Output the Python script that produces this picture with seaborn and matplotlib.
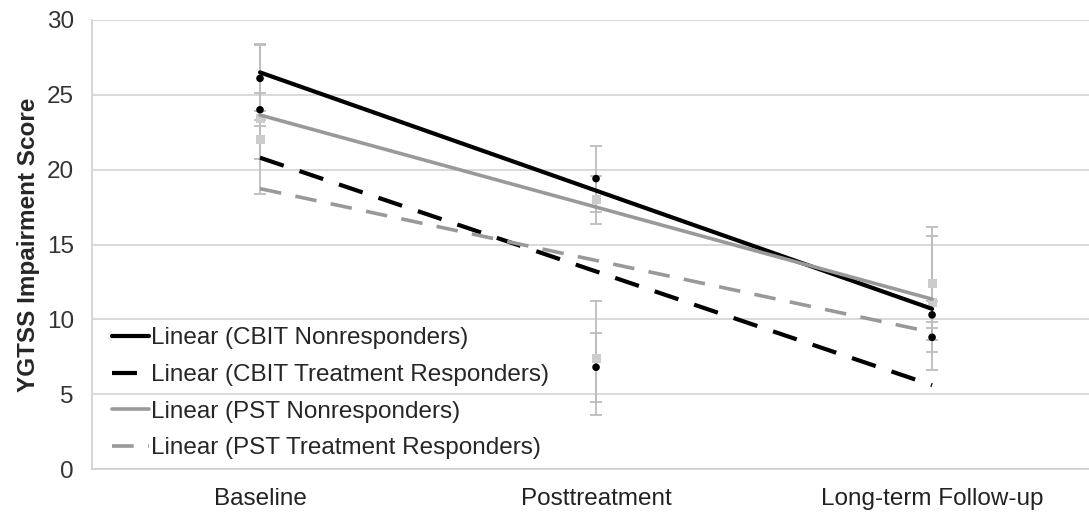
import matplotlib
matplotlib.use("Agg")
import matplotlib.pyplot as plt
import numpy as np
import pandas as pd
import seaborn as sns

# time points
phases = ["Baseline", "Posttreatment", "Long-term Follow-up"]
phase_x = [0, 1, 2]

# group means (YGTSS impairment)
cbit_nonresp = [26.1, 19.4, 10.3]
cbit_resp = [24.0, 6.8, 8.8]
pst_nonresp = [23.4, 18.0, 11.1]
pst_resp = [22.0, 7.4, 12.4]

# error bar half-widths
cbit_nonresp_err = [2.2, 2.2, 0.9]
cbit_resp_err = [1.1, 2.3, 1.0]
pst_nonresp_err = [5.0, 1.6, 4.5]
pst_resp_err = [1.3, 3.8, 3.8]

sns.set_theme(style="white")
plt.rcParams['font.family'] = ['Liberation Sans', 'DejaVu Sans']

groups = [
    ("CBIT Nonresponders", cbit_nonresp, cbit_nonresp_err, "black", "o", "-", 3.0),
    ("CBIT Treatment Responders", cbit_resp, cbit_resp_err, "black", "o", "--", 3.0),
    ("PST Nonresponders", pst_nonresp, pst_nonresp_err, "#999999", "s", "-", 2.6),
    ("PST Treatment Responders", pst_resp, pst_resp_err, "#999999", "s", "--", 2.6),
]

fig = plt.figure(figsize=(10.89, 5.14), dpi=100)
ax = fig.add_axes([92 / 1089, 1 - 469 / 514, 1 - 92 / 1089, (469 - 20) / 514])

for name, vals, errs, col, mk, ls, lw in groups:
    df = pd.DataFrame({"x": phase_x, "y": vals})
    ax.errorbar(phase_x, vals, yerr=errs, fmt="none", ecolor="#bdbdbd",
                elinewidth=1.3, capsize=4, capthick=1.3, zorder=2)
    mcol = "black" if col == "black" else "#cccccc"
    sns.scatterplot(data=df, x="x", y="y", ax=ax, color=mcol, marker=mk,
                    s=30 if mk == "o" else 42, edgecolor="none", zorder=3, legend=False)
    lkw = {"color": col, "lw": lw, "zorder": 4}
    if ls == "--":
        lkw["dashes"] = (6, 4)
    sns.regplot(data=df, x="x", y="y", ax=ax, scatter=False, ci=None,
                line_kws=lkw, label="Linear (" + name + ")")

ax.set_xlim(-0.5, 2.467)
ax.set_ylim(0, 30)
ax.set_yticks(np.arange(0, 31, 5))
ax.set_xticks(phase_x)
ax.set_xticklabels(phases)
ax.set_xticks([0.5, 1.5], minor=True)
ax.tick_params(axis="x", which="major", length=0, labelsize=17.5, pad=14, colors="#222222")
ax.tick_params(axis="x", which="minor", length=7, width=1.2, direction="out", color="#d0d0d0")
ax.tick_params(axis="y", length=6, width=1.2, direction="out", color="#d0d0d0",
               labelsize=17.5, colors="#333333", pad=7)
ax.grid(axis="y", color="#d9d9d9", lw=1.4)
ax.set_axisbelow(True)
for s in ["top", "right"]:
    ax.spines[s].set_visible(False)
for s in ["left", "bottom"]:
    ax.spines[s].set_color("#d0d0d0")
    ax.spines[s].set_linewidth(1.2)
ax.set_xlabel("")
ax.set_ylabel("YGTSS Impairment Score", fontsize=17.5, fontweight="bold", labelpad=5)

ax.legend(loc="lower left", bbox_to_anchor=(0.01, 0.0), frameon=False,
          fontsize=17.5, handlelength=1.55, handletextpad=0.05, labelspacing=0.6,
          borderaxespad=0.0)

fig.savefig("out.png", dpi=100)
